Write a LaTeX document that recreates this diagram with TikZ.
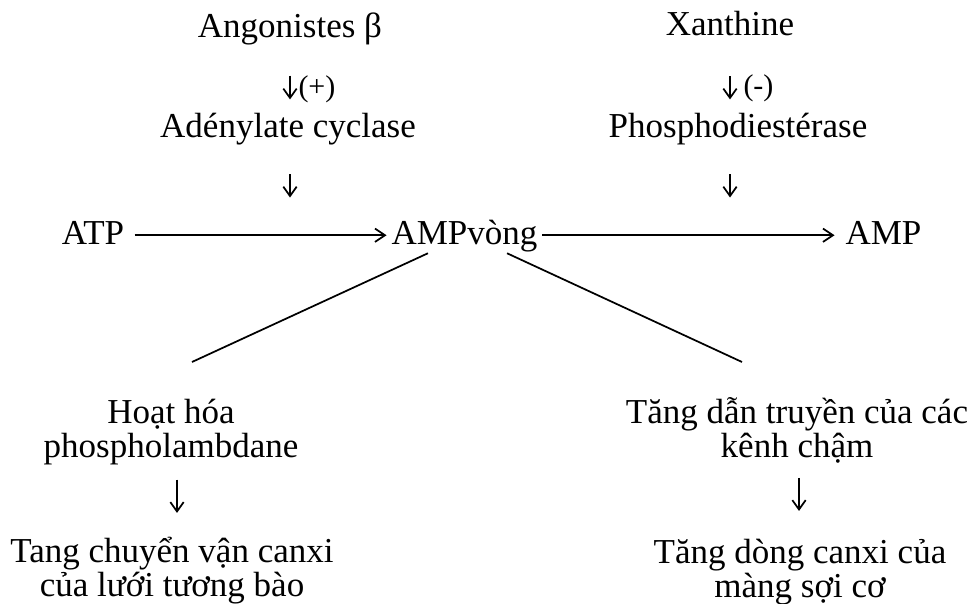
\documentclass[tikz,border=0pt]{standalone}
\usepackage{fontspec}
\setmainfont{Liberation Serif}
\usetikzlibrary{arrows.meta}

\tikzset{every picture/.style={line width=0.75pt}}
\tikzset{
  lbl/.style={inner sep=0pt, anchor=base, font=\fontsize{26.25pt}{25.5pt}\selectfont, text height=19.7pt, text depth=6.56pt},
  blk/.style={inner sep=0pt, anchor=base, align=center, font=\fontsize{26.25pt}{25.5pt}\selectfont},
  sgn/.style={inner sep=0pt, anchor=west, font=\fontsize{22.5pt}{24pt}\selectfont},
  darr/.style={line width=1.3pt, -{Straight Barb[length=7pt,width=10pt]}},
  harr/.style={line width=1.3pt, -{Straight Barb[length=7.5pt,width=10pt]}},
  brch/.style={line width=1.3pt},
}

\begin{document}
\begin{tikzpicture}[x=0.75pt,y=0.75pt,yscale=-1,xscale=1]
\path[use as bounding box] (0,0) rectangle (976,604);

% Text Node
\node[lbl] (ago) at (290,37) {Angonistes β};
\node[lbl] (xan) at (730,35) {Xanthine};
\node[lbl] (ade) at (288,137) {Adénylate cyclase};
\node[lbl] (pde) at (738,137) {Phosphodiestérase};
% Text Node
\node[lbl] (atp) at (93,244) {ATP};
\node[lbl] (camp) at (464.5,244) {AMPvòng};
\node[lbl] (amp) at (883.5,244) {AMP};
% Text Node (base = last line)
\node[blk] (hoat) at (171,457) {Hoạt hóa\\phospholambdane};
\node[blk] (tdt) at (797,457) {Tăng dẫn truyền của các\\kênh chậm};
\node[blk, font=\fontsize{26.25pt}{23.25pt}\selectfont] (tang) at (172,596) {Tang chuyển vận canxi\\của lưới tương bào};
\node[blk, font=\fontsize{26.25pt}{23.25pt}\selectfont] (tdc) at (800,597) {Tăng dòng canxi của\\màng sợi cơ};
% Text Node
\node[sgn] (plus) at (298,89) {(+)};
\node[sgn] (minus) at (743,88) {(-)};

% Arrows down
\draw[darr, shorten <=22pt, shorten >=8.1pt] (ago.south) -- (ago |- ade.north);
\draw[darr, shorten <=21pt, shorten >=14.8pt] (ade.south -| ago) -- (ago |- camp.north);
\draw[darr, shorten <=24pt, shorten >=8.1pt] (xan.south) -- (xan |- pde.north);
\draw[darr, shorten <=21pt, shorten >=14.8pt] (pde.south -| xan) -- (xan |- amp.north);
\draw[darr, shorten <=11pt, shorten >=18pt] ([xshift=4.5pt]hoat.south) -- ([xshift=4.5pt]hoat.south |- tang.north);
\draw[darr, shorten <=11pt, shorten >=21pt] ([xshift=1.5pt]tdt.south) -- ([xshift=1.5pt]tdt.south |- tdc.north);

% Arrows across
\draw[harr, shorten <=7.5pt, shorten >=3.4pt] (atp.east) -- (camp.west);
\draw[harr, shorten <=3.4pt, shorten >=7.9pt] (camp.east) -- (amp.west);

% Branches
\coordinate (lend) at (192,362);
\coordinate (rend) at (742,362);
\draw[brch] ([xshift=-27.4pt]camp.south) -- (lend);
\draw[brch] ([xshift=31.9pt]camp.south) -- (rend);

\end{tikzpicture}
\end{document}
